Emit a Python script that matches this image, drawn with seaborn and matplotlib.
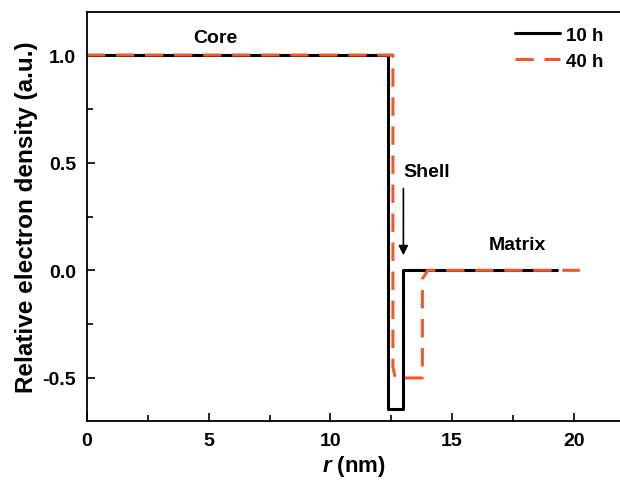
import matplotlib
matplotlib.use("Agg")
import matplotlib.pyplot as plt
import seaborn as sns
import pandas as pd
from matplotlib.ticker import MultipleLocator

# data
r_10h = [0.0, 12.36, 12.36, 12.98, 12.98, 19.3]
rho_10h = [1.0, 1.0, -0.645, -0.645, 0.0, 0.0]
r_40h = [0.0, 12.57, 12.57, 12.67, 13.78, 13.78, 14.0, 20.25]
rho_40h = [1.0, 1.0, -0.45, -0.5, -0.5, -0.04, 0.0, 0.0]
series_labels = ["10 h", "40 h"]
x_ticks = [0, 5, 10, 15, 20]
y_ticks = [-0.5, 0.0, 0.5, 1.0]

sns.set_theme(style="ticks")
plt.rcParams['font.family'] = ['Liberation Sans', 'DejaVu Sans']
plt.rcParams['font.weight'] = 'bold'
plt.rcParams['text.color'] = 'black'
plt.rcParams['axes.labelcolor'] = 'black'
plt.rcParams['xtick.color'] = 'black'
plt.rcParams['ytick.color'] = 'black'
plt.rcParams['mathtext.fontset'] = 'custom'
plt.rcParams['mathtext.it'] = 'Liberation Sans:italic:bold'
plt.rcParams['mathtext.rm'] = 'Liberation Sans:bold'

fig = plt.figure(figsize=(6.2, 4.85), dpi=100)
ax = fig.add_axes([87/620, 1-422/485, 1-87/620, (422-13)/485])

df10 = pd.DataFrame({"r": r_10h, "rho": rho_10h})
df40 = pd.DataFrame({"r": r_40h, "rho": rho_40h})
sns.lineplot(data=df10, x="r", y="rho", sort=False, estimator=None,
             color="black", lw=2.2, label=series_labels[0], ax=ax)
sns.lineplot(data=df40, x="r", y="rho", sort=False, estimator=None,
             color="#EE5A2C", lw=2.2, label=series_labels[1], ax=ax)
ax.lines[1].set_dashes((6, 3.5))

ax.set_xlim(0, 21.9)
ax.set_ylim(-0.7, 1.2)
ax.set_xticks(x_ticks)
ax.set_xticklabels([str(v) for v in x_ticks], fontweight='bold')
ax.set_yticks(y_ticks)
ax.set_yticklabels([f"{v:.1f}" for v in y_ticks], fontweight='bold')
ax.xaxis.set_minor_locator(MultipleLocator(2.5))
ax.yaxis.set_minor_locator(MultipleLocator(0.25))
ax.tick_params(which='both', direction='in', width=1.2, labelsize=14,
               colors='black', labelcolor='black')
ax.tick_params(which='major', length=6)
ax.tick_params(which='minor', length=4)
ax.tick_params(axis='x', which='both', pad=8)
ax.tick_params(axis='y', which='both', pad=8)

for s in ['left', 'bottom', 'top']:
    ax.spines[s].set_linewidth(1.3)
    ax.spines[s].set_color('black')
ax.spines['right'].set_visible(False)

ax.set_xlabel("$\\it{r}$ (nm)", fontsize=16, fontweight='bold', labelpad=3, color='black')
ax.set_ylabel("Relative electron density (a.u.)", fontsize=17.5, fontweight='bold',
              labelpad=3, color='black')

ax.text(5.26, 1.08, "Core", fontsize=14, fontweight='bold', ha='center', va='center', color='black')
ax.text(13.96, 0.46, "Shell", fontsize=14, fontweight='bold', ha='center', va='center', color='black')
ax.text(17.7, 0.12, "Matrix", fontsize=14, fontweight='bold', ha='center', va='center', color='black')
ax.annotate("", xy=(13.0, 0.07), xytext=(13.0, 0.38),
            arrowprops=dict(arrowstyle='-|>', color='black', lw=1.2,
                            mutation_scale=14, shrinkA=0, shrinkB=0))

leg = ax.legend(loc='upper right', bbox_to_anchor=(1.0, 1.005), frameon=False,
                prop={'weight': 'bold', 'size': 13.5}, handlelength=2.4,
                handletextpad=0.3, labelspacing=0.45)
for t in leg.get_texts():
    t.set_color('black')

fig.savefig("out.png", dpi=100)
